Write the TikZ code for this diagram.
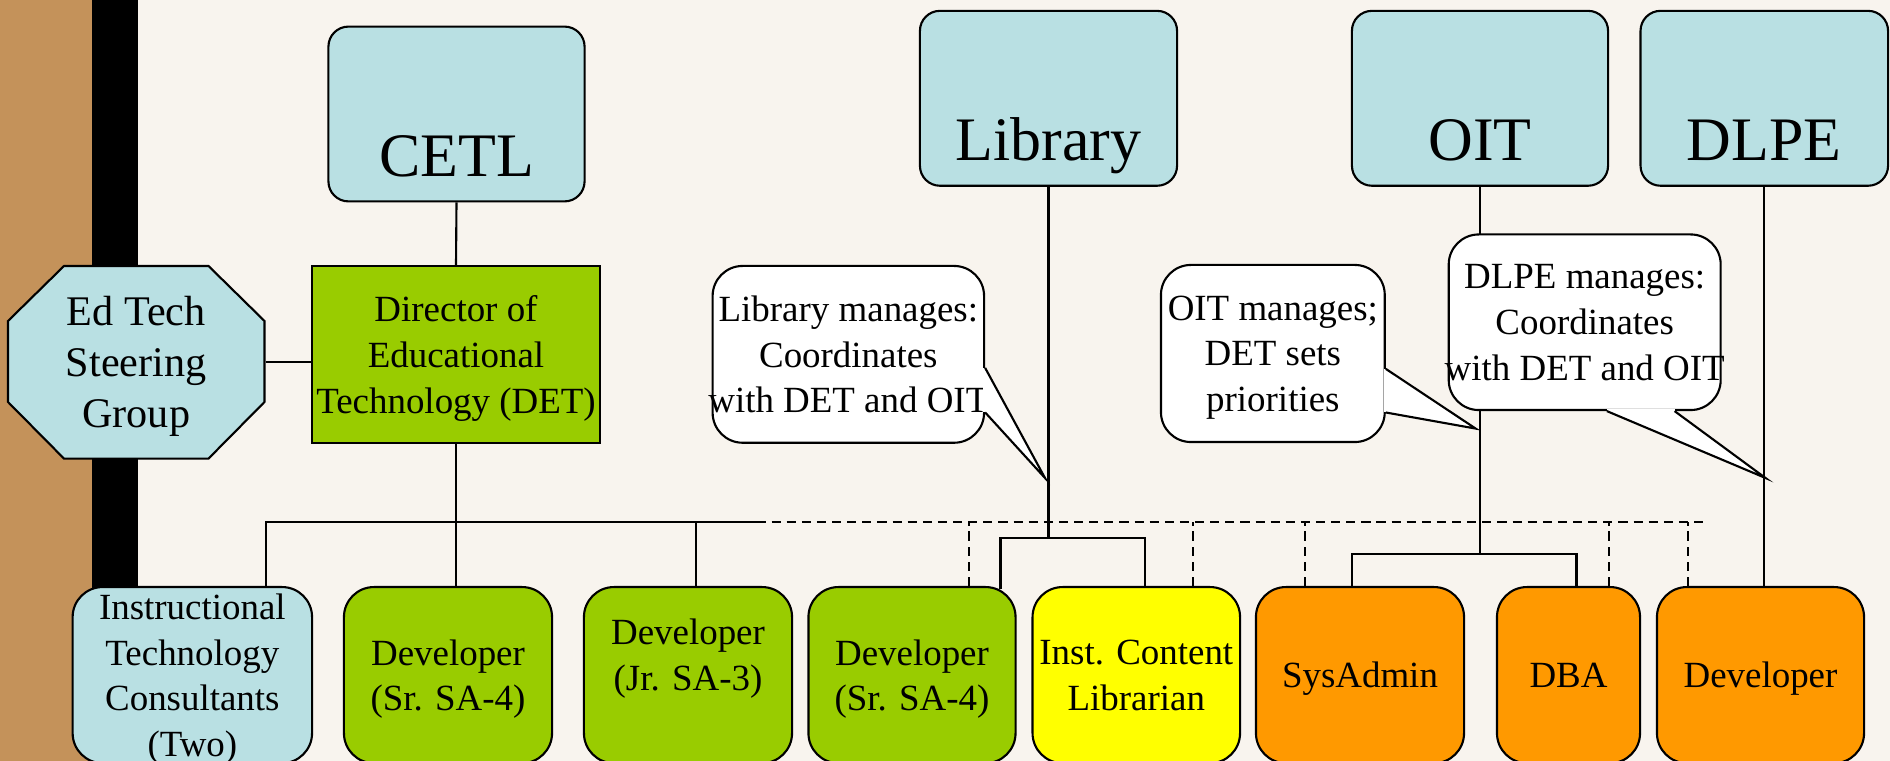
\documentclass[tikz,border=0pt]{standalone}
\usepackage{fontspec}
\setmainfont{Liberation Serif}
\usetikzlibrary{calc}
\definecolor{paper}{HTML}{F8F4EE}
\definecolor{leather}{HTML}{C4925A}
\definecolor{deptblue}{HTML}{B9E0E3}
\definecolor{detgreen}{HTML}{99CC00}
\definecolor{libyellow}{HTML}{FFFF00}
\definecolor{itorange}{HTML}{FF9900}
\tikzstyle{every node}=[font=\fontsize{10.5}{13}\selectfont,align=center,text depth=0pt]
\tikzstyle{dept}=[draw,fill=deptblue,rounded corners=.2cm,inner sep=0pt,
  font=\fontsize{17.6}{21}\selectfont,text height=1.494cm,text depth=.254cm]
\tikzstyle{staff}=[draw,rounded corners=.3cm,anchor=north,inner sep=0pt,
  minimum width=2.08cm,minimum height=1.76cm]
\tikzstyle{note}=[draw,fill=white,rounded corners=.3cm,inner sep=0pt]
\tikzstyle{dotline}=[dash pattern=on 2.6pt off 1.7pt]
\newcommand{\overhang}[1]{\makebox[0pt]{#1}}
\newcommand{\calloutptr}[3]{%
  \fill[white] (#1) -- (#3) -- (#2) -- cycle;
  \draw[white,line width=1.2pt] (#1) -- (#2);
  \draw (#1) -- (#3) -- (#2);}

\begin{document}
\begin{tikzpicture}[x=.01cm,y=-.01cm,line width=.6pt]
  \useasboundingbox (0,0) rectangle (1890,761);
  \clip (0,0) rectangle (1890,761);
  \fill[paper] (0,0) rectangle (1890,761);
  \fill[leather] (0,0) rectangle (92,761);
  \fill (92,0) rectangle (138,761);

  % departments
  \node[dept,minimum width=2.56cm,text height=1.503cm,text depth=.244cm] (cetl) at (456.5,114) {CETL};
  \node[dept,minimum width=2.57cm] (library) at (1048.5,98.3) {Library};
  \node[dept,minimum width=2.56cm] (oit) at (1480,98.3) {OIT};
  \node[dept,minimum width=2.474cm] (dlpe) at (1764.3,98.3) {DLPE};

  % steering group and director
  \draw[fill=deptblue] (64,266) -- (208.5,266) -- (264.5,321) -- (264.5,402)
    -- (208.5,458.6) -- (64,458.6) -- (8,402) -- (8,321) -- cycle;
  \node[inner sep=0pt,minimum width=2.565cm,minimum height=1.926cm,
    font=\fontsize{12}{14.5}\selectfont] (edtech) at (136.25,362.3) {Ed Tech\\Steering\\Group};
  \node[draw,fill=detgreen,inner sep=0pt,minimum width=2.88cm,minimum height=1.767cm]
    (det) at (456,354.4) {Director of\\Educational\\Technology (DET)};

  % staff
  \node[staff,fill=deptblue,minimum width=2.393cm] (itc) at (192.35,586)
    {Instructional\\Technology\\Consultants\\(Two)};
  \node[staff,fill=detgreen] (dev1) at (448,586) {Developer\\(Sr. SA-4)};
  \node[staff,fill=detgreen,text depth=.41cm] (dev2) at (688,586) {Developer\\(Jr. SA-3)};
  \node[staff,fill=detgreen,minimum width=2.07cm] (dev3) at (912,586) {Developer\\(Sr. SA-4)};
  \node[staff,fill=libyellow,minimum width=2.074cm] (librarian) at (1136.3,586) {Inst. Content\\Librarian};
  \node[staff,fill=itorange] (sysadmin) at (1360,586) {SysAdmin};
  \node[staff,fill=itorange,minimum width=1.43cm] (dba) at (1568.5,586) {DBA};
  \node[staff,fill=itorange,minimum width=2.07cm] (webdev) at (1760.5,586) {Developer};

  % reporting lines
  \coordinate (detbus) at (456,522);
  \coordinate (libbus) at (1048,538);
  \coordinate (oitbus) at (1480,554);
  \coordinate (busend) at (1705,522);
  \draw (cetl.south) -- (det.north);
  \draw (edtech.east) -- (edtech.east -| det.west);
  \draw (det.south) -- (det.south |- dev1.north);
  \draw (itc.north -| edtech.east) |- ($(detbus)+(304,0)$);
  \draw ($(dev2.north)+(8,0)$) -- ($(dev2.north |- detbus)+(8,0)$);
  \draw[dotline] ($(dev2.north |- detbus)+(8,0)$) -- (busend);
  \foreach \n/\dx in {dev3/57,librarian/56.5,sysadmin/-55.3,dba/40.5,webdev/-72.5}
    \draw[dotline] ($(\n.north)+(\dx,0)$) -- ($(\n.north |- detbus)+(\dx,0)$);
  \draw (library.south) -- (library.south |- libbus);
  \draw ($(dev3.north)+(88.5,3)$) |- (libbus) -| ($(librarian.north)+(8.7,0)$);
  \draw (oit.south) -- (oit.south |- oitbus);
  \draw ($(sysadmin.north)+(-8,0)$) |- (oitbus) -| ($(dba.north)+(8,0)$);
  \draw (dlpe.south) -- (dlpe.south |- webdev.north);

  % callouts
  \node[note,minimum width=2.713cm,minimum height=1.767cm] (libnote) at (848.35,354.35)
    {Library manages:\\Coordinates\\\overhang{with DET and OIT}};
  \coordinate (libtip) at (1045,478);
  \calloutptr{$(libnote.north east)+(0,103)$}{$(libnote.north east)+(0,147.5)$}{libtip}
  \node[note,minimum width=2.237cm,minimum height=1.77cm] (oitnote) at (1272.85,353.5)
    {OIT manages;\\DET sets\\priorities};
  \coordinate (oittip) at (1475.7,428.6);
  \calloutptr{$(oitnote.north east)+(0,105)$}{$(oitnote.north east)+(0,148.6)$}{oittip}
  \node[note,minimum width=2.718cm,minimum height=1.755cm] (dlpenote) at (1584.7,322.25)
    {DLPE manages:\\Coordinates\\\overhang{with DET and OIT}};
  \coordinate (dlpetip) at (1765.5,478);
  \calloutptr{$(dlpenote.south west)+(159.2,0)$}{$(dlpenote.south west)+(226.9,0)$}{dlpetip}
\end{tikzpicture}
\end{document}
